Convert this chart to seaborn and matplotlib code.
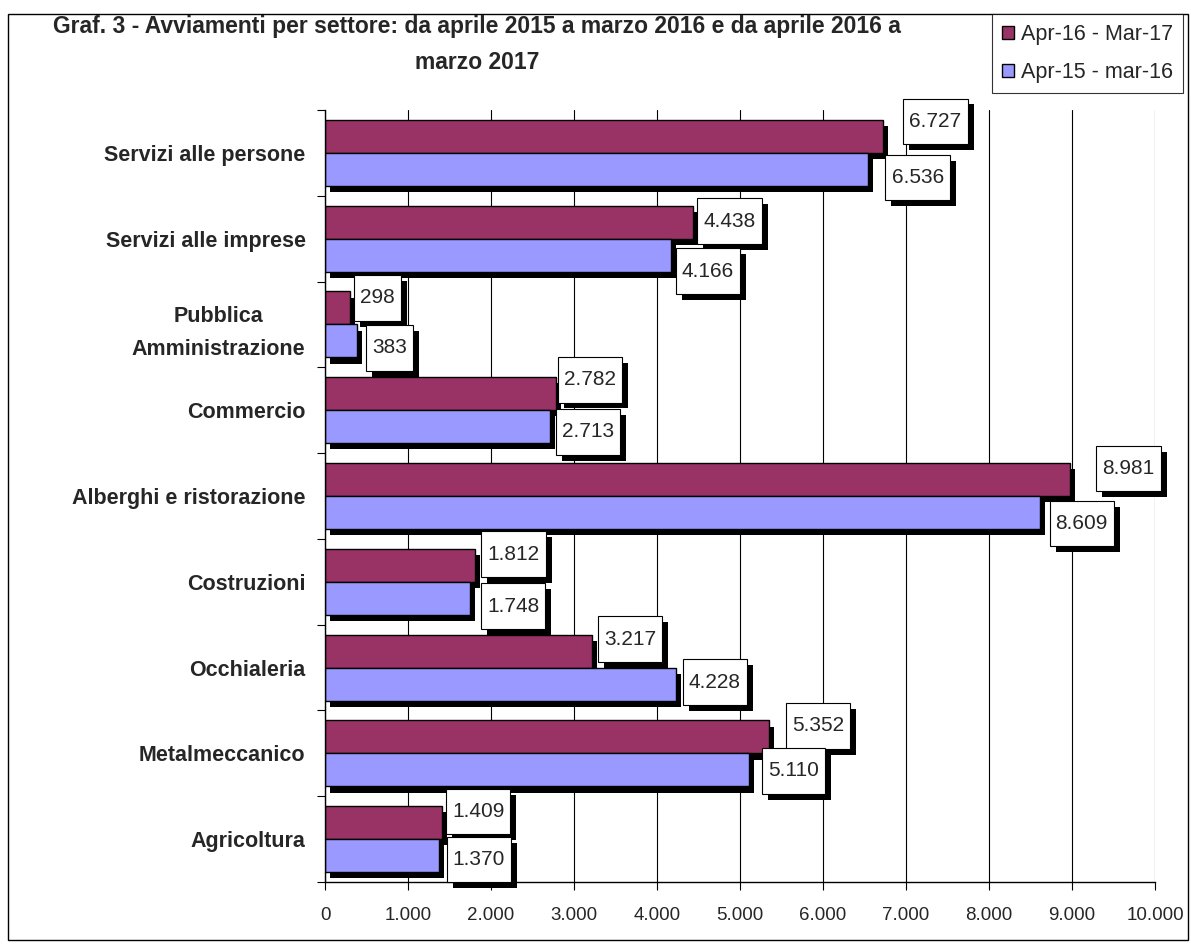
import numpy as np
import pandas as pd
import matplotlib
matplotlib.use("Agg")
import matplotlib.pyplot as plt
import matplotlib.patheffects as pe
from matplotlib.path import Path
from matplotlib.patches import Rectangle
from matplotlib.ticker import FuncFormatter, FixedLocator
import seaborn as sns

# --- data ---
settori = ["Servizi alle persone", "Servizi alle imprese", "Pubblica\nAmministrazione",
           "Commercio", "Alberghi e ristorazione", "Costruzioni", "Occhialeria",
           "Metalmeccanico", "Agricoltura"]
periodi = ["Apr-16 - Mar-17", "Apr-15 - mar-16"]
avv_16_17 = [6727, 4438, 298, 2782, 8981, 1812, 3217, 5352, 1409]
avv_15_16 = [6536, 4166, 383, 2713, 8609, 1748, 4228, 5110, 1370]

# label nudges in pixels (gap right of bar end, shift down from bar centre)
gap_new = [20, 4, 4, 2, 26, 6, 6, 17, 4]
dy_new = [-15, -1, -10, -14, -11, -11, -12, -11, -11]
gap_old = [18, 5, 9, 6, 10, 11, 7, 13, 8]
dy_old = [8, 16, 7, 5, 11, 8, -2, 1, 4]

colori = ["#993366", "#9999FF"]

df = pd.DataFrame({
    "settore": settori * 2,
    "valore": avv_16_17 + avv_15_16,
    "periodo": [periodi[0]] * len(settori) + [periodi[1]] * len(settori),
})

sns.set_style("white")
plt.rcParams["font.family"] = ["Liberation Sans", "DejaVu Sans"]

fig = plt.figure(figsize=(11.91, 9.44), dpi=100)
ax = fig.add_axes([0.2729, 0.0657, 0.6969, 0.8178])

sns.barplot(data=df, y="settore", x="valore", hue="periodo", orient="h",
            palette=colori, saturation=1, width=0.77, edgecolor="black",
            linewidth=1.0, ax=ax, legend=True)

handles, labels = ax.get_legend_handles_labels()
ax.get_legend().remove()

# bar shadows
bar_shadow = [pe.SimplePatchShadow(offset=(3.6, -4.5), shadow_rgbFace="black", alpha=1.0),
              pe.Normal()]
for cont in ax.containers:
    for bar in cont:
        bar.set_path_effects(bar_shadow)


def label_box(x0, y0, width, height, mutation_size):
    px = 0.29 * mutation_size
    py = 0.64 * mutation_size
    verts = [(x0 - px, y0 - py), (x0 + width + px, y0 - py),
             (x0 + width + px, y0 + height + py), (x0 - px, y0 + height + py),
             (x0 - px, y0 - py)]
    return Path(verts, closed=True)


box_shadow = [pe.SimplePatchShadow(offset=(4.3, -4.3), shadow_rgbFace="black", alpha=1.0),
              pe.Normal()]

fmt = lambda v: f"{v:,.0f}".replace(",", ".")

series = [(avv_16_17, gap_new, dy_new), (avv_15_16, gap_old, dy_old)]
for i in range(len(settori)):
    for k, (vals, gaps, dys) in enumerate(series):
        bar = ax.containers[k][i]
        yc = bar.get_y() + bar.get_height() / 2
        t = ax.annotate(fmt(vals[i]), xy=(vals[i], yc), xytext=(gaps[i] + 6, -dys[i]),
                        textcoords="offset pixels", ha="left", va="center",
                        fontsize=15, zorder=5,
                        bbox=dict(boxstyle=label_box, fc="white", ec="black", lw=0.8))
        t.get_bbox_patch().set_path_effects(box_shadow)

# axes styling
ax.set_xlim(0, 10000)
ax.set_ylim(len(settori) - 0.5, -0.5)
ax.xaxis.set_major_locator(FixedLocator(np.arange(0, 10001, 1000)))
ax.xaxis.set_major_formatter(FuncFormatter(lambda v, p: fmt(v)))
ax.grid(axis="x", color="black", lw=0.8)
ax.grid(axis="y", visible=False)
ax.set_axisbelow(True)
ax.set_xlabel("")
ax.set_ylabel("")
for s in ["top", "right"]:
    ax.spines[s].set_visible(False)
for s in ["left", "bottom"]:
    ax.spines[s].set_color("black")
    ax.spines[s].set_linewidth(1.0)

ax.tick_params(axis="x", direction="out", length=6, width=0.8, color="black",
               labelsize=13.5, pad=12, bottom=True)
ax.tick_params(axis="y", which="major", length=0, pad=14, labelsize=15.5)
ax.yaxis.set_minor_locator(FixedLocator(np.arange(-0.5, len(settori), 1.0)))
ax.tick_params(axis="y", which="minor", direction="out", length=6, width=0.8,
               color="black", left=True)
for lab in ax.get_yticklabels():
    lab.set_fontweight("bold")
    lab.set_multialignment("center")
    lab.set_linespacing(1.75)

# title
fig.text(0.4005, 0.9714,
         "Graf. 3 - Avviamenti per settore: da aprile 2015 a marzo 2016 e da aprile 2016 a",
         ha="center", va="center", fontsize=16.5, fontweight="bold")
fig.text(0.4005, 0.9333, "marzo 2017", ha="center", va="center",
         fontsize=16.5, fontweight="bold")

# legend
leg = fig.legend(handles, labels, loc="upper right", bbox_to_anchor=(0.9933, 0.9852),
                 bbox_transform=fig.transFigure, borderaxespad=0, fontsize=15.5,
                 frameon=True, fancybox=False, shadow=False, handlelength=0.55,
                 handleheight=0.55, handletextpad=0.35, labelspacing=0.8,
                 borderpad=0.45)
leg.get_frame().set_edgecolor("black")
leg.get_frame().set_linewidth(0.8)

# outer frame
fig.patches.append(Rectangle((8 / 1191, 4 / 944), 1180 / 1191, 926 / 944,
                             transform=fig.transFigure, fill=False, ec="black",
                             lw=1.0, zorder=-1))

fig.savefig("out.png", dpi=100)
